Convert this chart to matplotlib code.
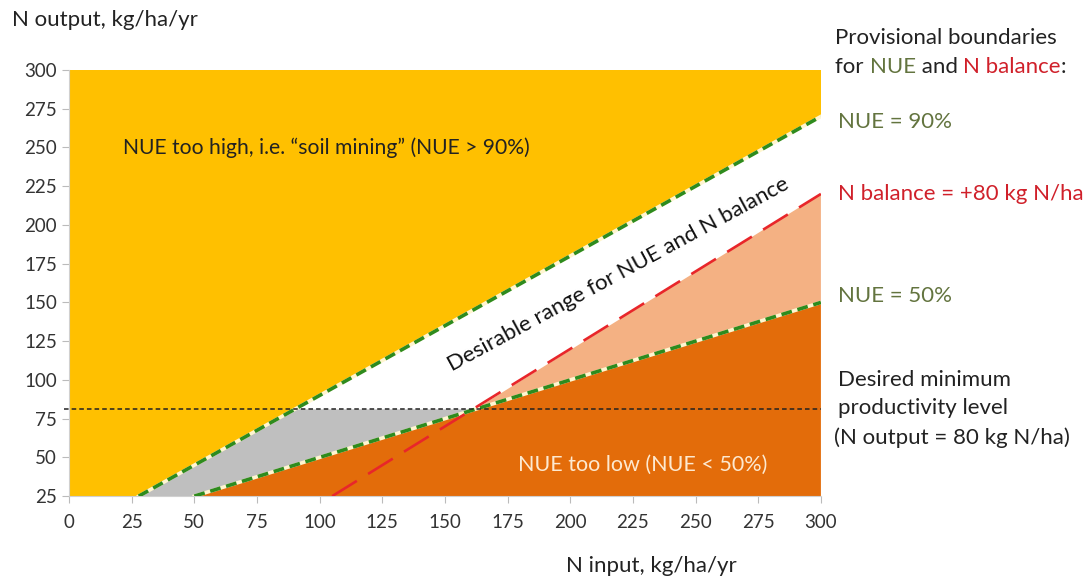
import numpy as np
import matplotlib.pyplot as plt

plt.rcParams['font.family'] = ['Lato', 'DejaVu Sans']

# boundary lines (N input, N output)
nue90_x = [27.8, 300]
nue90_y = [25, 270]
nue50_x = [50, 300]
nue50_y = [25, 150]
nbal_x = [105, 300]
nbal_y = [25, 220]
min_output = 81

xticks = [0, 25, 50, 75, 100, 125, 150, 175, 200, 225, 250, 275, 300]
yticks = [25, 50, 75, 100, 125, 150, 175, 200, 225, 250, 275, 300]

yellow = '#FFC000'
dark_orange = '#E36C0A'
salmon = '#F4B183'
grey = '#BFBFBF'
green = '#2E8B1E'
red = '#E8262A'
olive = '#63743F'
txt_red = '#D0202A'
dark = '#222222'

fig = plt.figure(figsize=(10.85, 5.83), dpi=100)
ax = fig.add_axes([0.0636, 0.149, 0.693, 0.731])

xmax = xticks[-1]
ymin, ymax = yticks[0], yticks[-1]

# regions
ax.fill_between([0, xmax], ymin, ymax, color=yellow, lw=0, zorder=1)
ax.fill_between(nue90_x, ymin, nue90_y, color='white', lw=0, zorder=1.1)

x90_at_min = np.interp(min_output, nue90_y, nue90_x)
x50_at_min = np.interp(min_output, nue50_y, nue50_x)
ax.fill([nue90_x[0], x90_at_min, x50_at_min, nue50_x[0]],
        [ymin, min_output, min_output, ymin], color=grey, lw=0, zorder=1.2)
ax.fill([x50_at_min, nbal_x[1], nue50_x[1]],
        [min_output, nbal_y[1], nue50_y[1]], color=salmon, lw=0, zorder=1.2)
ax.fill([nue50_x[0], nue50_x[1], nue50_x[1]],
        [ymin, nue50_y[1], ymin], color=dark_orange, lw=0, zorder=1.3)

# boundary lines
for lx, ly in [(nue90_x, nue90_y), (nue50_x, nue50_y)]:
    ax.plot(lx, ly, color='#FFF6D0', lw=2.6, zorder=3)
    ax.plot(lx, ly, color=green, lw=2.6, ls=(0, (3, 1.6)), zorder=3.1)
ax.plot(nbal_x, nbal_y, color=red, lw=1.9, ls=(0, (11, 5)), zorder=3.2)
ax.plot([-2, xmax], [min_output, min_output], color=dark, lw=1.1,
        ls=(0, (3, 2)), zorder=3.3, clip_on=False)

ax.set_xlim(0, xmax)
ax.set_ylim(ymin, ymax)
ax.set_xticks(xticks)
ax.set_yticks(yticks)
ax.tick_params(colors='#BBBBBB', labelcolor='#333333', labelsize=13.5, length=5)
ax.tick_params(axis='x', pad=8)
for s in ['top', 'right']:
    ax.spines[s].set_visible(False)
for s in ['left', 'bottom']:
    ax.spines[s].set_color('#D0D0D0')

# region labels
ax.text(21.5, 250, 'NUE too high, i.e. \u201csoil mining\u201d (NUE > 90%)',
        fontsize=15.2, color=dark, va='center', zorder=5)
ax.text(219, 168, 'Desirable range for NUE and N balance', fontsize=16,
        color='#111111', rotation=28.5, ha='center', va='center', zorder=5)
ax.text(229, 45, 'NUE too low (NUE < 50%)', fontsize=15.5, color='#FDE9D0',
        ha='center', va='center', zorder=5)

# axis titles
fig.text(0.011, 0.965, 'N output, kg/ha/yr', fontsize=16, color=dark,
         va='center')
fig.text(0.6, 0.03, 'N input, kg/ha/yr', fontsize=16, color=dark,
         ha='center', va='center')

# right-hand notes
fs = 16
fig.text(0.77, 0.935, 'Provisional boundaries', fontsize=fs, color=dark,
         va='center')
t = fig.text(0.77, 0.885, 'for ', fontsize=fs, color=dark, va='center')
t = ax.annotate('NUE', xycoords=t, xy=(1, 0), va='bottom', fontsize=fs,
                color=olive)
t = ax.annotate(' and ', xycoords=t, xy=(1, 0), va='bottom', fontsize=fs,
                color=dark)
t = ax.annotate('N balance', xycoords=t, xy=(1, 0), va='bottom', fontsize=fs,
                color=txt_red)
ax.annotate(':', xycoords=t, xy=(1, 0), va='bottom', fontsize=fs, color=dark)

fig.text(0.772, 0.79, 'NUE = 90%', fontsize=fs, color=olive, va='center')
fig.text(0.772, 0.668, 'N balance = +80 kg N/ha', fontsize=fs, color=txt_red,
         va='center')
fig.text(0.772, 0.492, 'NUE = 50%', fontsize=fs, color=olive, va='center')
fig.text(0.772, 0.348, 'Desired minimum', fontsize=fs, color=dark,
         va='center')
fig.text(0.772, 0.3, 'productivity level', fontsize=fs, color=dark,
         va='center')
fig.text(0.769, 0.25, '(N output = 80 kg N/ha)', fontsize=fs, color=dark,
         va='center')

fig.savefig('out.png', dpi=100)
